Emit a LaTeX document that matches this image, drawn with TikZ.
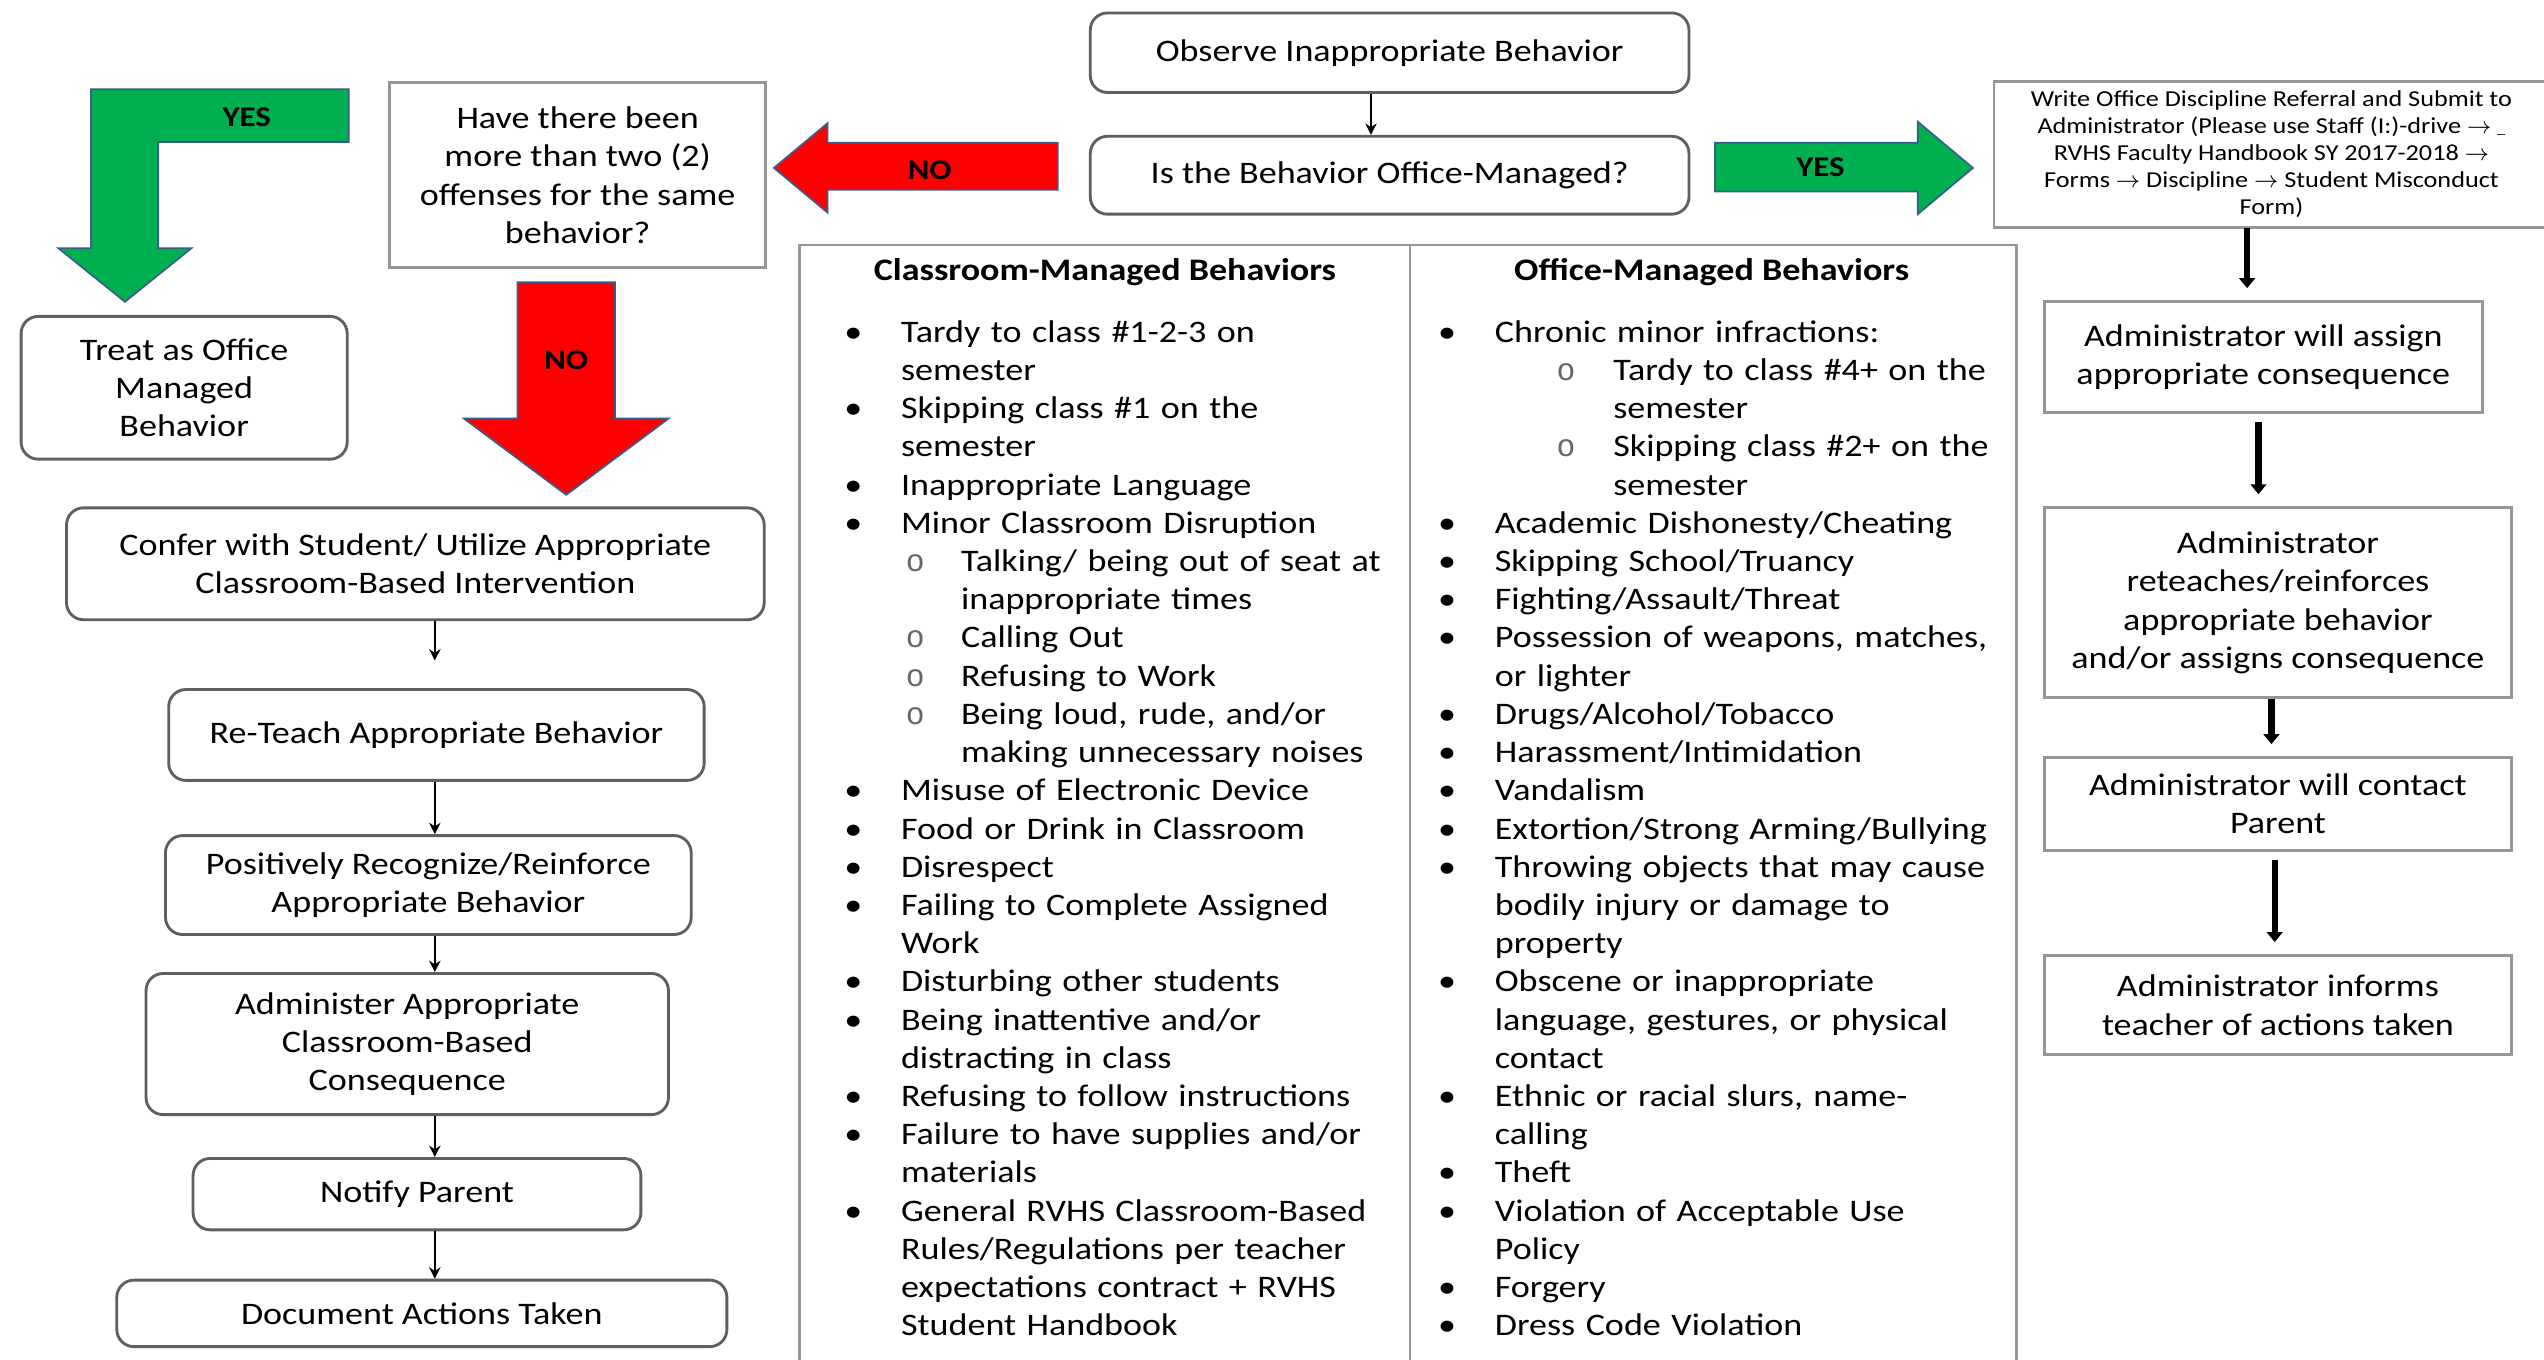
\documentclass[tikz,border=0pt]{standalone}
\usepackage{fontspec}
\setmainfont{Carlito}[FakeStretch=1.15]
\newfontfamily\monofont{Liberation Mono}
\usetikzlibrary{arrows.meta}
\usepackage{xcolor}

\definecolor{yesgreen}{RGB}{0,176,80}
\definecolor{nored}{RGB}{255,0,0}
\definecolor{arrowedge}{RGB}{56,93,138}
\definecolor{boxline}{RGB}{95,95,95}
\definecolor{gridline}{RGB}{150,150,150}

\newcommand{\blt}{\makebox[7mm][l]{\textbullet}}
\newcommand{\subo}{{\monofont\color{black!60}o}}
\newcommand{\contd}{\hspace*{7mm}}

\begin{document}
\begin{tikzpicture}[
  x=0.2mm, y=-0.2mm,
  every node/.style={font=\fontsize{11}{13.4}\selectfont},
  roundbox/.style={draw=boxline, line width=1pt, rounded corners=6pt, align=center, inner sep=2pt},
  squarebox/.style={draw=gridline, line width=1pt, align=center, inner sep=2pt},
  flow/.style={-{Stealth[length=4pt,width=4pt]}, line width=0.8pt},
  heavyflow/.style={-{Triangle[length=3.5pt,width=5.5pt]}, line width=2.2pt, shorten >=1.5mm},
  blockarrow/.style={draw=arrowedge, line width=0.6pt},
  blocklabel/.style={font=\bfseries\fontsize{10}{12}\selectfont},
  listtext/.style={anchor=base west, align=left, inner sep=0pt, text width=75mm},
  >=Stealth
]

\path[use as bounding box, fill=white] (0,0) rectangle (1568,838);

% Start
\node[roundbox, minimum width=73.8mm, minimum height=9.8mm] (observe) at (856.5,32.5)
  {Observe Inappropriate Behavior};
\node[roundbox, minimum width=73.8mm, minimum height=9.6mm] (officeq) at (856.5,108)
  {Is the Behavior Office-Managed?};
\draw[flow] (845,0 |- observe.south) -- (845,0 |- officeq.north);

% Office side (referral box runs off the right edge)
\draw[gridline, line width=1pt] (1229,50) rectangle (1600,140);
\node[align=center, minimum height=18mm, inner sep=2pt,
      font=\fontsize{8}{9.5}\selectfont] (write) at (1400,95)
  {Write Office Discipline Referral and Submit to\\
   Administrator (Please use Staff (I:)-drive $\rightarrow$ {\tiny\_}\\
   RVHS Faculty Handbook SY 2017-2018 $\rightarrow$\\
   Forms $\rightarrow$ Discipline $\rightarrow$ Student Misconduct\\
   Form)};
\node[squarebox, minimum width=54mm, minimum height=13.6mm] (assign) at (1395,220)
  {Administrator will assign\\appropriate consequence};
\node[squarebox, minimum width=57.6mm, minimum height=23.4mm] (adminre) at (1404,371.5)
  {Administrator\\reteaches/reinforces\\appropriate behavior\\and/or assigns consequence};
\node[squarebox, minimum width=57.6mm, minimum height=11.4mm] (contact) at (1404,495.5)
  {Administrator will contact\\Parent};
\node[squarebox, minimum width=57.6mm, minimum height=12.2mm] (informs) at (1404,619.5)
  {Administrator informs\\teacher of actions taken};

\draw[heavyflow] (1385,0 |- write.south) -- (1385,0 |- assign.north);
\draw[heavyflow, shorten <=1mm] (1392,0 |- assign.south) -- (1392,0 |- adminre.north);
\draw[heavyflow] (1400,0 |- adminre.south) -- (1400,0 |- contact.north);
\draw[heavyflow, shorten <=1mm] (1402,0 |- contact.south) -- (1402,0 |- informs.north);

% YES to the office
\path[blockarrow, fill=yesgreen] (1057,88) -- (1182,88) -- (1182,75) -- (1216,103.5)
  -- (1182,132) -- (1182,118) -- (1057,118) -- cycle;
\node[blocklabel] (yesR) at (1122,103) {YES};

% Classroom side
\node[squarebox, minimum width=46.4mm, minimum height=22.8mm] (offenses) at (356,108)
  {Have there been\\more than two (2)\\offenses for the same\\behavior?};
\path[blockarrow, fill=nored] (652,88) -- (510,88) -- (510,76) -- (477,103.5)
  -- (510,131) -- (510,117) -- (652,117) -- cycle;
\node[blocklabel] (noL) at (573,105) {NO};

\path[blockarrow, fill=yesgreen] (215,55) -- (56,55) -- (56,153) -- (36,153) -- (77,186)
  -- (118,153) -- (97.5,153) -- (97.5,87.5) -- (215,87.5) -- cycle;
\node[blocklabel] (yesL) at (152,72) {YES};
\node[roundbox, minimum width=40.2mm, minimum height=17.6mm] (treat) at (113.5,239)
  {Treat as Office\\Managed\\Behavior};

\path[blockarrow, fill=nored] (319,174) -- (379,174) -- (379,258) -- (412,258) -- (349,305)
  -- (286,258) -- (319,258) -- cycle;
\node[blocklabel] (noD) at (349,222) {NO};

\node[roundbox, minimum width=86mm, minimum height=13.8mm] (confer) at (256,347.5)
  {Confer with Student/ Utilize Appropriate\\Classroom-Based Intervention};
\node[roundbox, minimum width=66mm, minimum height=11.2mm] (reteach) at (269,453)
  {Re-Teach Appropriate Behavior};
\node[roundbox, minimum width=64.8mm, minimum height=12.2mm] (recognize) at (264,545.5)
  {Positively Recognize/Reinforce\\Appropriate Behavior};
\node[roundbox, minimum width=64.4mm, minimum height=17.4mm] (administer) at (251,643.5)
  {Administer Appropriate\\Classroom-Based\\Consequence};
\node[roundbox, minimum width=55.2mm, minimum height=8.8mm] (notify) at (257,736)
  {Notify Parent};
\node[roundbox, minimum width=75.2mm, minimum height=8.2mm] (document) at (260,809.5)
  {Document Actions Taken};

\draw[flow, shorten >=3.4mm] (268,0 |- confer.south) -- (268,0 |- reteach.north);
\draw[flow] (268,0 |- reteach.south) -- (268,0 |- recognize.north);
\draw[flow] (268,0 |- recognize.south) -- (268,0 |- administer.north);
\draw[flow] (268,0 |- administer.south) -- (268,0 |- notify.north);
\draw[flow] (268,0 |- notify.south) -- (268,0 |- document.north);

% Behavior table
\draw[gridline, line width=1pt] (493,850) -- (493,151) -- (1243,151) -- (1243,850);
\draw[gridline, line width=1pt] (869,151) -- (869,850);

\node[font=\bfseries\fontsize{11}{13.4}\selectfont] (clshead) at (681,168)
  {Classroom-Managed Behaviors};
\node[font=\bfseries\fontsize{11}{13.4}\selectfont] (offhead) at (1055,168)
  {Office-Managed Behaviors};

\node[listtext] (clsitems) at (520,211) {%
\blt Tardy to class \#1-2-3 on\\
\contd semester\\
\blt Skipping class \#1 on the\\
\contd semester\\
\blt Inappropriate Language\\
\blt Minor Classroom Disruption\\
\hspace*{7.6mm}\makebox[6.8mm][l]{\subo}Talking/ being out of seat at\\
\hspace*{14.4mm}inappropriate times\\
\hspace*{7.6mm}\makebox[6.8mm][l]{\subo}Calling Out\\
\hspace*{7.6mm}\makebox[6.8mm][l]{\subo}Refusing to Work\\
\hspace*{7.6mm}\makebox[6.8mm][l]{\subo}Being loud, rude, and/or\\
\hspace*{14.4mm}making unnecessary noises\\
\blt Misuse of Electronic Device\\
\blt Food or Drink in Classroom\\
\blt Disrespect\\
\blt Failing to Complete Assigned\\
\contd Work\\
\blt Disturbing other students\\
\blt Being inattentive and/or\\
\contd distracting in class\\
\blt Refusing to follow instructions\\
\blt Failure to have supplies and/or\\
\contd materials\\
\blt General RVHS Classroom-Based\\
\contd Rules/Regulations per teacher\\
\contd expectations contract + RVHS\\
\contd Student Handbook};

\node[listtext] (offitems) at (886,211) {%
\blt Chronic minor infractions:\\
\hspace*{14.6mm}\makebox[7mm][l]{\subo}Tardy to class \#4+ on the\\
\hspace*{21.6mm}semester\\
\hspace*{14.6mm}\makebox[7mm][l]{\subo}Skipping class \#2+ on the\\
\hspace*{21.6mm}semester\\
\blt Academic Dishonesty/Cheating\\
\blt Skipping School/Truancy\\
\blt Fighting/Assault/Threat\\
\blt Possession of weapons, matches,\\
\contd or lighter\\
\blt Drugs/Alcohol/Tobacco\\
\blt Harassment/Intimidation\\
\blt Vandalism\\
\blt Extortion/Strong Arming/Bullying\\
\blt Throwing objects that may cause\\
\contd bodily injury or damage to\\
\contd property\\
\blt Obscene or inappropriate\\
\contd language, gestures, or physical\\
\contd contact\\
\blt Ethnic or racial slurs, name-\\
\contd calling\\
\blt Theft\\
\blt Violation of Acceptable Use\\
\contd Policy\\
\blt Forgery\\
\blt Dress Code Violation};

\end{tikzpicture}
\end{document}
